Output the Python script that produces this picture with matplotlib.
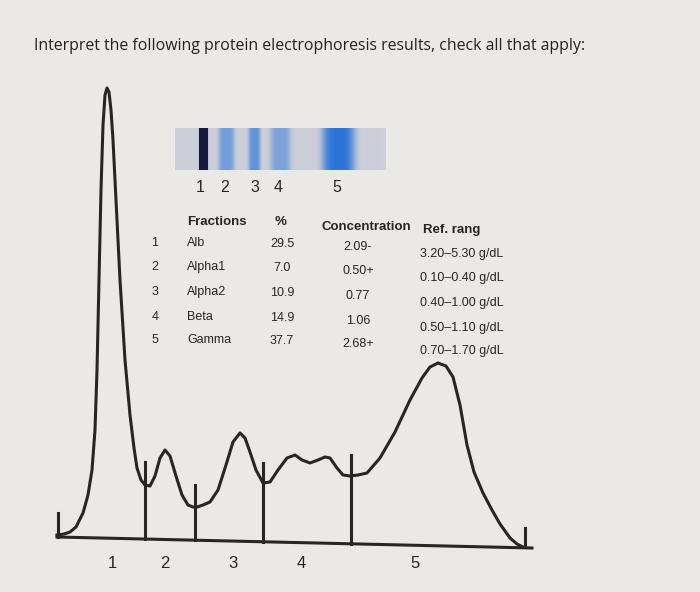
import numpy as np
import matplotlib
matplotlib.use('Agg')
import matplotlib.pyplot as plt

# densitometry trace (pixel coords)
trace_x = [57, 64, 70, 76, 83, 88, 92, 95, 97, 99, 101, 103, 105, 107, 109, 111, 113, 116, 120, 125, 130,
           134, 137, 141, 145, 150, 155, 160, 165, 170, 176, 182, 188, 193, 197, 203, 210, 218, 226, 233,
           240, 245, 250, 256, 263, 270, 278, 287, 295, 302, 310, 318, 325, 330, 337, 343, 350, 358, 367,
           380, 395, 410, 422, 430, 438, 446, 453, 460, 467, 474, 483, 492, 500, 510, 517, 523]
trace_y = [535, 534, 532, 527, 513, 495, 470, 430, 370, 280, 190, 125, 95, 88, 92, 110, 140, 200, 280, 360, 415,
           448, 468, 480, 485, 486, 476, 458, 450, 456, 476, 495, 505, 507, 507, 505, 502, 490, 465, 442,
           433, 438, 452, 470, 483, 482, 470, 458, 455, 460, 463, 460, 457, 458, 468, 475, 476, 475, 473,
           458, 432, 400, 378, 367, 363, 366, 377, 405, 445, 472, 493, 510, 524, 538, 544, 547]

dividers_x = [145, 195, 263, 351]
dividers_top = [462, 485, 463, 455]
peak_labels = ['1', '2', '3', '4', '5']
peak_label_x = [112, 165, 233, 301, 415]

# gel strip bands: position, width, darkness
band_pos = [203, 226, 254, 280, 338]
band_wid = [4, 8, 6, 10, 16]
band_strength = [1.0, 0.5, 0.6, 0.45, 0.9]
band_num_x = [200, 225, 255, 278, 337]

row_num = ['1', '2', '3', '4', '5']
fractions = ['Alb', 'Alpha1', 'Alpha2', 'Beta', 'Gamma']
percent = ['29.5', '7.0', '10.9', '14.9', '37.7']
concentration = ['2.09-', '0.50+', '0.77', '1.06', '2.68+']
ref_range = ['3.20–5.30 g/dL', '0.10–0.40 g/dL', '0.40–1.00 g/dL', '0.50–1.10 g/dL', '0.70–1.70 g/dL']
row_y = [246, 270, 295, 320, 343]

plt.rcParams['font.family'] = ['Liberation Sans', 'DejaVu Sans']

fig = plt.figure(figsize=(7, 5.92), dpi=100)
fig.patch.set_facecolor('#ebe9e5')
ax = fig.add_axes([0, 0, 1, 1])
ax.set_xlim(0, 700)
ax.set_ylim(592, 0)
ax.axis('off')

ax.text(34, 46, 'Interpret the following protein electrophoresis results, check all that apply:',
        fontsize=11.4, color='#222222', va='center', ha='left', family=['Open Sans', 'DejaVu Sans'])

ink = '#2a2523'
ax.plot(trace_x, trace_y, color=ink, lw=2.2, solid_joinstyle='round')
ax.plot([57, 532], [537, 548], color=ink, lw=2.2)
ax.plot([58, 58], [513, 537], color=ink, lw=2.2)
ax.plot([525, 525], [528, 547], color=ink, lw=2.2)
for x, top in zip(dividers_x, dividers_top):
    base = 537 + (x - 57) * 11 / 475
    ax.plot([x, x], [top, base], color=ink, lw=2.2)
for lab, x in zip(peak_labels, peak_label_x):
    ax.text(x, 563, lab, fontsize=12, color=ink, ha='center', va='center')

# gel strip
xs = np.arange(175, 386)
dark = np.zeros_like(xs, dtype=float)
for p, w, s in zip(band_pos, band_wid, band_strength):
    dark = np.maximum(dark, s * np.exp(-((xs - p) / w) ** 4))
base_c = np.array([0.80, 0.81, 0.85])
band_c = np.array([0.10, 0.42, 0.85])
cols = base_c[None, :] * (1 - dark[:, None]) + band_c[None, :] * dark[:, None]
cols[np.abs(xs - 203) < 5] = [0.1, 0.1, 0.25]
ax.imshow(np.repeat(cols[None, :, :], 2, axis=0), extent=[175, 386, 170, 128], aspect='auto')
ax.set_xlim(0, 700)
ax.set_ylim(592, 0)
for lab, x in zip(peak_labels, band_num_x):
    ax.text(x, 188, lab, fontsize=11.5, color=ink, ha='center', va='center')

# results table
hdr = dict(fontsize=9.5, color=ink, va='center', fontweight='bold')
ax.text(187, 222, 'Fractions', ha='left', **hdr)
ax.text(281, 222, '%', ha='center', **hdr)
ax.text(322, 227, 'Concentration', ha='left', **hdr)
ax.text(423, 230, 'Ref. rang', ha='left', **hdr)
cell = dict(fontsize=9, color=ink, va='center')
for i, y in enumerate(row_y):
    ax.text(155, y - 3, row_num[i], ha='center', **cell)
    ax.text(187, y - 3, fractions[i], ha='left', **cell)
    ax.text(282, y - 2, percent[i], ha='center', **cell)
    ax.text(358, y + 1, concentration[i], ha='center', **cell)
    ax.text(420, y + 8, ref_range[i], ha='left', **cell)

fig.savefig('out.png', dpi=100, facecolor=fig.get_facecolor())
